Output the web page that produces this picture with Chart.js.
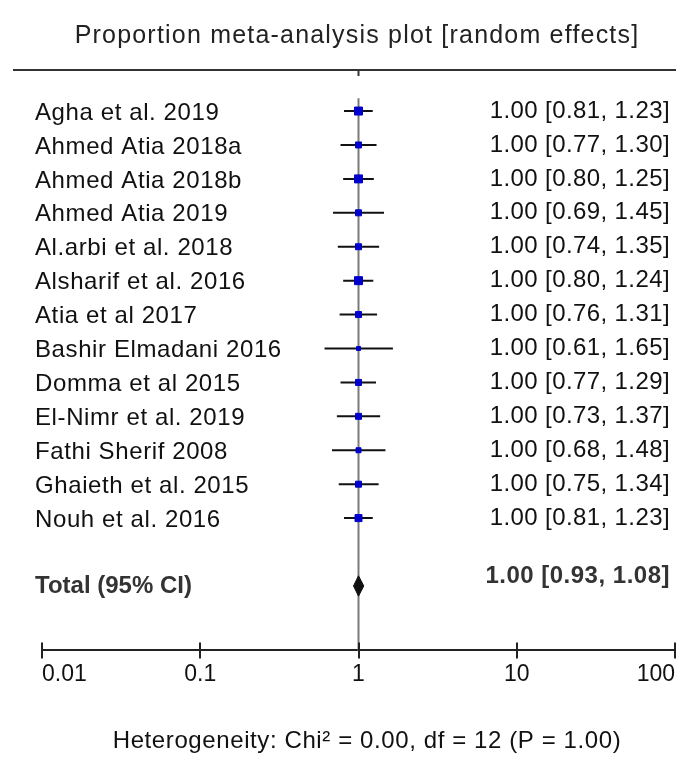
<!DOCTYPE html>
<html>
<head>
<meta charset="utf-8">
<script src="https://cdn.jsdelivr.net/npm/chart.js@4.4.0/dist/chart.umd.min.js"></script>
<style>
  html, body { margin: 0; padding: 0; background: #fff; }
  #wrap { width: 676px; height: 766px; }
</style>
</head>
<body>
<div id="wrap"><canvas id="forest" width="676" height="766"></canvas></div>
<script>
// Study rows (proportion, 95% CI)
const studies = [
  "Agha et al. 2019",
  "Ahmed Atia 2018a",
  "Ahmed Atia 2018b",
  "Ahmed Atia 2019",
  "Al.arbi et al. 2018",
  "Alsharif et al. 2016",
  "Atia et al 2017",
  "Bashir Elmadani 2016",
  "Domma et al 2015",
  "El-Nimr et al. 2019",
  "Fathi Sherif 2008",
  "Ghaieth et al. 2015",
  "Nouh et al. 2016",
];
const estimates = [1.00, 1.00, 1.00, 1.00, 1.00, 1.00, 1.00, 1.00, 1.00, 1.00, 1.00, 1.00, 1.00];
const lower = [0.81, 0.77, 0.80, 0.69, 0.74, 0.80, 0.76, 0.61, 0.77, 0.73, 0.68, 0.75, 0.81];
const upper = [1.23, 1.30, 1.25, 1.45, 1.35, 1.24, 1.31, 1.65, 1.29, 1.37, 1.48, 1.34, 1.23];
// relative study weight -> marker size (px side of the blue square)
const weights = [8, 6, 8, 6, 6, 8, 6, 4, 6, 6, 5, 6, 7];

const totalLabel = "Total (95% CI)";
const totalEstimate = 1.00;
const totalLower = 0.93;
const totalUpper = 1.08;

const xTicks = [0.01, 0.1, 1, 10, 100];

const titleText = "Proportion meta-analysis plot [random effects]";
const heterogeneityText = "Heterogeneity: Chi\u00b2 = 0.00, df = 12 (P = 1.00)";

const FONT = "'Liberation Sans', Arial, sans-serif";
const TOTAL_ROW = 14;

function fmt(v) {
  return v.toFixed(2);
}

// whisker lines, one dataset per study
const whiskerSets = studies.map((name, i) => ({
  label: name,
  data: [{ x: lower[i], y: i }, { x: upper[i], y: i }],
  showLine: true,
  borderColor: "#111",
  borderWidth: 2,
  pointRadius: 0,
  order: 1,
}));

/** Top rule, tick marks and all the text around the plot */
const forestDecor = {
  id: "forestDecor",
  afterDraw(chart) {
    const { ctx, chartArea, scales } = chart;
    const xs = scales.x;
    const ys = scales.y;

    ctx.save();
    // top rule
    ctx.strokeStyle = "#333";
    ctx.lineWidth = 2;
    ctx.beginPath();
    ctx.moveTo(13, chartArea.top);
    ctx.lineTo(676, chartArea.top);
    ctx.stroke();
    // small tick under the rule at the null line
    const x1 = xs.getPixelForValue(1);
    ctx.beginPath();
    ctx.moveTo(x1, chartArea.top);
    ctx.lineTo(x1, chartArea.top + 6);
    ctx.stroke();

    // axis tick marks, centred on the axis line
    ctx.strokeStyle = "#222";
    xTicks.forEach((v) => {
      const px = Math.min(Math.round(xs.getPixelForValue(v)), 675);
      ctx.beginPath();
      ctx.moveTo(px, chartArea.bottom - 8);
      ctx.lineTo(px, chartArea.bottom + 8);
      ctx.stroke();
    });

    // title
    ctx.fillStyle = "#222";
    ctx.font = "25px " + FONT;
    ctx.letterSpacing = "1.2px";
    ctx.textAlign = "center";
    ctx.textBaseline = "middle";
    ctx.fillText(titleText, 357, 36);

    // study names and estimates
    ctx.fillStyle = "#111";
    ctx.font = "24px " + FONT;
    studies.forEach((name, i) => {
      const py = ys.getPixelForValue(i);
      ctx.letterSpacing = "0.6px";
      ctx.textAlign = "left";
      ctx.fillText(name, 35, py + 2);
      ctx.letterSpacing = "0.4px";
      ctx.textAlign = "right";
      ctx.fillText(
        `${fmt(estimates[i])} [${fmt(lower[i])}, ${fmt(upper[i])}]`,
        670,
        py
      );
    });

    // total row
    const ty = ys.getPixelForValue(TOTAL_ROW);
    ctx.font = "bold 24px " + FONT;
    ctx.fillStyle = "#333";
    ctx.letterSpacing = "0px";
    ctx.textAlign = "left";
    ctx.fillText(totalLabel, 35, ty);
    ctx.letterSpacing = "0.5px";
    ctx.textAlign = "right";
    ctx.fillText(
      `${fmt(totalEstimate)} [${fmt(totalLower)}, ${fmt(totalUpper)}]`,
      670,
      ty - 10
    );

    // heterogeneity note
    ctx.font = "24px " + FONT;
    ctx.letterSpacing = "0.6px";
    ctx.fillStyle = "#111";
    ctx.textAlign = "center";
    ctx.fillText(heterogeneityText, 367, 741);
    ctx.restore();
  },
};

new Chart(document.getElementById("forest"), {
  type: "scatter",
  data: {
    datasets: [
      {
        label: "Estimate",
        data: studies.map((name, i) => ({ x: estimates[i], y: i })),
        pointStyle: "rect",
        pointRadius: weights.map((w) => w / Math.SQRT2),
        backgroundColor: "#0000cc",
        borderColor: "#0000cc",
        borderWidth: 1,
        order: 0,
      },
      ...whiskerSets,
      {
        label: "Total",
        data: [
          { x: totalLower, y: TOTAL_ROW },
          { x: totalEstimate, y: TOTAL_ROW - 0.3 },
          { x: totalUpper, y: TOTAL_ROW },
          { x: totalEstimate, y: TOTAL_ROW + 0.3 },
          { x: totalLower, y: TOTAL_ROW },
        ],
        showLine: true,
        fill: "shape",
        backgroundColor: "#111",
        borderColor: "#111",
        borderWidth: 1,
        pointRadius: 0,
        tension: 0,
        order: 1,
      },
      {
        label: "Null line",
        data: [{ x: 1, y: -0.38 }, { x: 1, y: 16 }],
        showLine: true,
        borderColor: "#7a7a7a",
        borderWidth: 2,
        pointRadius: 0,
        order: 2,
      },
    ],
  },
  options: {
    responsive: false,
    animation: false,
    layout: {
      autoPadding: false,
      padding: { left: 42, right: 1, top: 70, bottom: 68 },
    },
    plugins: {
      legend: { display: false },
      tooltip: { enabled: false },
    },
    scales: {
      x: {
        type: "logarithmic",
        min: 0.01,
        max: 100,
        afterBuildTicks: (scale) => {
          scale.ticks = xTicks.map((v) => ({ value: v }));
        },
        // labels are aligned inside, so no extra side padding is needed
        afterFit: (scale) => {
          scale.paddingLeft = 0;
          scale.paddingRight = 0;
        },
        grid: { display: false, drawTicks: false },
        border: { display: true, color: "#222", width: 2 },
        ticks: {
          align: "inner",
          autoSkip: false,
          maxRotation: 0,
          padding: 10,
          color: "#111",
          font: { family: FONT, size: 23 },
          callback: (v) => String(v),
        },
      },
      y: {
        type: "linear",
        display: false,
        reverse: true,
        min: -1.21,
        max: 15.9,
      },
    },
  },
  plugins: [forestDecor],
});
</script>
</body>
</html>
